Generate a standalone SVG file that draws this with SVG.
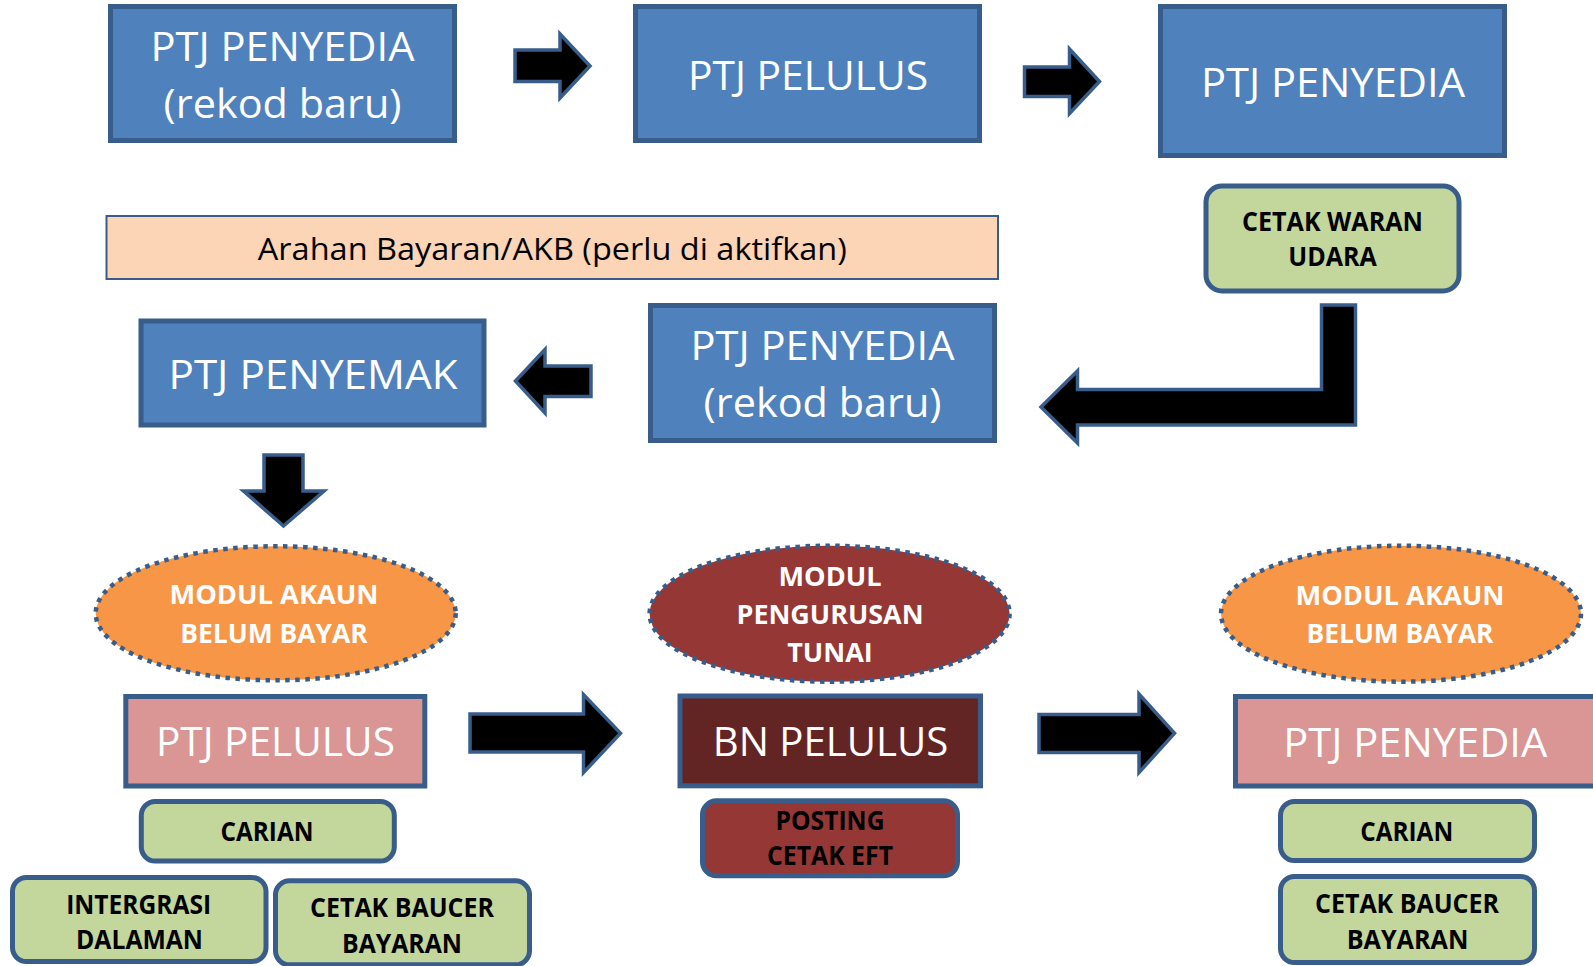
<svg xmlns="http://www.w3.org/2000/svg" width="1593" height="966" viewBox="0 0 1593 966">
<style>
.blue{fill:#4F81BD;stroke:#385D8A;stroke-width:5}
.pink{fill:#D99694;stroke:#385D8A;stroke-width:5}
.bn{fill:#632523;stroke:#385D8A;stroke-width:5}
.green{fill:#C3D69B;stroke:#385D8A;stroke-width:5}
.redbox{fill:#953735;stroke:#385D8A;stroke-width:5}
.peach{fill:#FBD5B5;stroke:#385D8A;stroke-width:2}
.ell-o{fill:#F79646;stroke:#385D8A;stroke-width:4.5;stroke-dasharray:4.5 5.5}
.ell-r{fill:#953735;stroke:#385D8A;stroke-width:4.5;stroke-dasharray:4.5 5.5}
.arrow{fill:#000000;stroke:#385D8A;stroke-width:3.5;stroke-linejoin:miter}
.big{font-family:"Open Sans","Liberation Sans",sans-serif;font-size:41px;fill:#FFFFFF;text-anchor:middle}
.lbl{font-family:"Open Sans","Liberation Sans",sans-serif;font-size:26px;font-weight:bold;fill:#000000;text-anchor:middle}
.lblw{font-family:"Open Sans","Liberation Sans",sans-serif;font-size:26px;font-weight:bold;fill:#FFFFFF;text-anchor:middle}
.note{font-family:"Open Sans","Liberation Sans",sans-serif;font-size:31px;fill:#000000;text-anchor:middle}
</style>

<g id="connectors">
  <polygon class="arrow" points="515,50 560,50 560,34 590,66 560,98 560,81.5 515,81.5"/>
  <polygon class="arrow" points="1024.5,67 1069.5,67 1069.5,49 1099.5,81.5 1069.5,113.5 1069.5,96.5 1024.5,96.5"/>
  <polygon class="arrow" points="1041,407 1077.5,371 1077.5,389.5 1321.5,389.5 1321.5,305 1355.5,305 1355.5,425 1077.5,425 1077.5,443"/>
  <polygon class="arrow" points="515.5,381 545,349.5 545,366 591,366 591,396.5 545,396.5 545,413"/>
  <polygon class="arrow" points="264,455 303,455 303,491 324,491 283.5,526 243.5,491 264,491"/>
  <polygon class="arrow" points="470,714 583.5,714 583.5,694.5 620.5,733.3 583.5,772.5 583.5,752 470,752"/>
  <polygon class="arrow" points="1039,714.5 1139,714.5 1139,694 1174.5,733.3 1139,772.5 1139,752.5 1039,752.5"/>
</g>

<g id="ptj-penyedia-rekod-1">
  <rect class="blue" x="110.5" y="6.5" width="344" height="134"/>
  <text class="big" x="282.5" y="61" textLength="264" lengthAdjust="spacingAndGlyphs">PTJ PENYEDIA</text>
  <text class="big" x="282.5" y="118" textLength="238" lengthAdjust="spacingAndGlyphs">(rekod baru)</text>
</g>

<g id="ptj-pelulus-top">
  <rect class="blue" x="635.5" y="6.5" width="344" height="134"/>
  <text class="big" x="808" y="89.5" textLength="240" lengthAdjust="spacingAndGlyphs">PTJ PELULUS</text>
</g>

<g id="ptj-penyedia-top">
  <rect class="blue" x="1160.5" y="6.5" width="344" height="149"/>
  <text class="big" x="1333" y="96.5" textLength="264" lengthAdjust="spacingAndGlyphs">PTJ PENYEDIA</text>
</g>

<g id="cetak-waran">
  <rect class="green" x="1206" y="186" width="253" height="105" rx="16"/>
  <text class="lbl" x="1332.5" y="231" textLength="181" lengthAdjust="spacingAndGlyphs">CETAK WARAN</text>
  <text class="lbl" x="1332.5" y="265.5" textLength="88.5" lengthAdjust="spacingAndGlyphs">UDARA</text>
</g>

<g id="arahan">
  <rect class="peach" x="106.5" y="216" width="891.5" height="63"/>
  <text class="note" x="552.3" y="259.5" textLength="589" lengthAdjust="spacingAndGlyphs">Arahan Bayaran/AKB (perlu di aktifkan)</text>
</g>

<g id="ptj-penyedia-rekod-2">
  <rect class="blue" x="650.5" y="305.5" width="344" height="135"/>
  <text class="big" x="822.5" y="360" textLength="264" lengthAdjust="spacingAndGlyphs">PTJ PENYEDIA</text>
  <text class="big" x="822.5" y="416.5" textLength="238" lengthAdjust="spacingAndGlyphs">(rekod baru)</text>
</g>

<g id="ptj-penyemak">
  <rect class="blue" x="141" y="321" width="343" height="104"/>
  <text class="big" x="313" y="389" textLength="289" lengthAdjust="spacingAndGlyphs">PTJ PENYEMAK</text>
</g>

<g id="modul-akb-1">
  <ellipse class="ell-o" cx="275.7" cy="613.3" rx="180" ry="67"/>
  <text class="lblw" x="274" y="604.3" textLength="209" lengthAdjust="spacingAndGlyphs">MODUL AKAUN</text>
  <text class="lblw" x="274" y="643.3" textLength="187.5" lengthAdjust="spacingAndGlyphs">BELUM BAYAR</text>
</g>

<g id="modul-tunai">
  <ellipse class="ell-r" cx="829.6" cy="613.7" rx="180" ry="68"/>
  <text class="lblw" x="830" y="585.7" textLength="103" lengthAdjust="spacingAndGlyphs">MODUL</text>
  <text class="lblw" x="830" y="624.3" textLength="187" lengthAdjust="spacingAndGlyphs">PENGURUSAN</text>
  <text class="lblw" x="830" y="662.3" textLength="85.5" lengthAdjust="spacingAndGlyphs">TUNAI</text>
</g>

<g id="modul-akb-2">
  <ellipse class="ell-o" cx="1401" cy="613.7" rx="180" ry="68"/>
  <text class="lblw" x="1400" y="605" textLength="209" lengthAdjust="spacingAndGlyphs">MODUL AKAUN</text>
  <text class="lblw" x="1400" y="643.3" textLength="187" lengthAdjust="spacingAndGlyphs">BELUM BAYAR</text>
</g>

<g id="ptj-pelulus-bottom">
  <rect class="pink" x="125.8" y="696.5" width="299" height="89.5"/>
  <text class="big" x="275.4" y="756" textLength="239" lengthAdjust="spacingAndGlyphs">PTJ PELULUS</text>
</g>

<g id="bn-pelulus">
  <rect class="bn" x="680" y="696" width="300.5" height="89.8"/>
  <text class="big" x="830.5" y="756" textLength="235.6" lengthAdjust="spacingAndGlyphs">BN PELULUS</text>
</g>

<g id="ptj-penyedia-bottom">
  <rect class="pink" x="1235.5" y="696.5" width="370" height="89.5"/>
  <text class="big" x="1415.3" y="756.5" textLength="264" lengthAdjust="spacingAndGlyphs">PTJ PENYEDIA</text>
</g>

<g id="posting-eft">
  <rect class="redbox" x="702.5" y="800.8" width="255" height="75" rx="14"/>
  <text class="lbl" x="830" y="830" textLength="109" lengthAdjust="spacingAndGlyphs">POSTING</text>
  <text class="lbl" x="830" y="865" textLength="126" lengthAdjust="spacingAndGlyphs">CETAK EFT</text>
</g>

<g id="carian-left">
  <rect class="green" x="141.3" y="801.5" width="253" height="59.5" rx="14"/>
  <text class="lbl" x="267" y="841" textLength="93" lengthAdjust="spacingAndGlyphs">CARIAN</text>
</g>

<g id="intergrasi">
  <rect class="green" x="12.5" y="877.5" width="253.5" height="84" rx="14"/>
  <text class="lbl" x="138.7" y="914.3" textLength="145" lengthAdjust="spacingAndGlyphs">INTERGRASI</text>
  <text class="lbl" x="139.5" y="949.3" textLength="127" lengthAdjust="spacingAndGlyphs">DALAMAN</text>
</g>

<g id="cetak-baucer-left">
  <rect class="green" x="275.5" y="880.8" width="254" height="84" rx="14"/>
  <text class="lbl" x="402" y="917.3" textLength="184" lengthAdjust="spacingAndGlyphs">CETAK BAUCER</text>
  <text class="lbl" x="402" y="952.5" textLength="120" lengthAdjust="spacingAndGlyphs">BAYARAN</text>
</g>

<g id="carian-right">
  <rect class="green" x="1280.5" y="801.5" width="254" height="59" rx="14"/>
  <text class="lbl" x="1406.7" y="841" textLength="93" lengthAdjust="spacingAndGlyphs">CARIAN</text>
</g>

<g id="cetak-baucer-right">
  <rect class="green" x="1280.5" y="876.5" width="254" height="86" rx="14"/>
  <text class="lbl" x="1407" y="913.3" textLength="184" lengthAdjust="spacingAndGlyphs">CETAK BAUCER</text>
  <text class="lbl" x="1407.5" y="949.3" textLength="121.7" lengthAdjust="spacingAndGlyphs">BAYARAN</text>
</g>
</svg>
